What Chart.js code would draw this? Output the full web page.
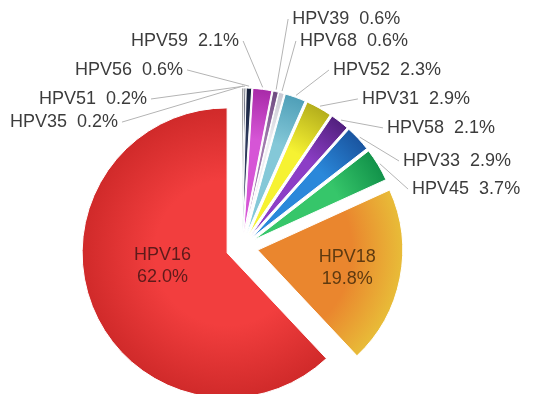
<!DOCTYPE html>
<html>
<head>
<meta charset="utf-8">
<script src="https://cdn.jsdelivr.net/npm/chart.js@4.4.0/dist/chart.umd.min.js"></script>
<style>
  html, body { margin: 0; padding: 0; background: #fff; }
  #wrap { width: 535px; height: 394px; }
</style>
</head>
<body>
<div id="wrap"><canvas id="pie"></canvas></div>
<script>
// HPV genotype shares (%), clockwise from 12 o'clock
const types = ['HPV35', 'HPV51', 'HPV56', 'HPV59', 'HPV39', 'HPV68', 'HPV52', 'HPV31', 'HPV58', 'HPV33', 'HPV45', 'HPV18', 'HPV16'];
const shares = [0.2, 0.2, 0.6, 2.1, 0.6, 0.6, 2.3, 2.9, 2.1, 2.9, 3.7, 19.8, 62.0];

// colour near the tip and at the rim of each slice
const innerColors = ['#3a3a3a', '#3c4560', '#2e3a5c', '#d655d6', '#a07aae', '#eeeef2', '#84c8d8', '#f6f232', '#8c3ec6', '#2a88da', '#36c66a', '#ea862e', '#f23e3e'];
const rimColors = ['#111111', '#1c2236', '#16203a', '#a82aa8', '#6e4a80', '#c8c8d2', '#4f9fb8', '#b4ae1c', '#52207e', '#1a55a0', '#12924a', '#e8bc38', '#d02a2a'];

// where the outside labels sit: angle from 12 o'clock, distance in pie radii
const labelSpots = [[-44.8, 1.214], [-32.7, 1.213], [-18.4, 1.287], [-0.8, 1.421], [12.4, 1.61], [15.7, 1.476],
  [27.2, 1.372], [39.0, 1.314], [50.6, 1.294], [61.9, 1.259], [71.2, 1.239]];

// pull every slice out from the centre, then shade it from tip to rim
const explode = {
  id: 'explode',
  afterDatasetUpdate(chart, args) {
    const ctx = chart.ctx;
    chart.getDatasetMeta(args.index).data.forEach((arc, i) => {
      const mid = (arc.startAngle + arc.endAngle) / 2;
      const d = shares[i] > 10 ? 16 : 14;
      arc.x += Math.cos(mid) * d;
      arc.y += Math.sin(mid) * d;
      const g = ctx.createRadialGradient(arc.x, arc.y, 0, arc.x, arc.y, arc.outerRadius);
      g.addColorStop(0, innerColors[i]);
      g.addColorStop(shares[i] > 50 ? 0.5 : 0.65, innerColors[i]);
      g.addColorStop(1, rimColors[i]);
      arc.options.backgroundColor = g;
    });
  }
};

const sliceLabels = {
  id: 'sliceLabels',
  afterDraw(chart) {
    const ctx = chart.ctx;
    const area = chart.chartArea;
    const cx = (area.left + area.right) / 2;
    const cy = (area.top + area.bottom) / 2;
    const arcs = chart.getDatasetMeta(0).data;
    ctx.save();
    ctx.font = '18px "Liberation Sans", Arial, sans-serif';
    ctx.textBaseline = 'middle';
    arcs.forEach((arc, i) => {
      const mid = (arc.startAngle + arc.endAngle) / 2;
      const R = arc.outerRadius;
      if (i < labelSpots.length) {
        const a = labelSpots[i][0] * Math.PI / 180;
        const tx = cx + Math.sin(a) * R * labelSpots[i][1];
        const ty = cy - Math.cos(a) * R * labelSpots[i][1];
        const left = a < 0;
        ctx.strokeStyle = '#b4b4b4';
        ctx.lineWidth = 1;
        ctx.beginPath();
        ctx.moveTo(arc.x + Math.cos(mid) * (R + 2), arc.y + Math.sin(mid) * (R + 2));
        ctx.lineTo(tx + (left ? 4 : -4), ty);
        ctx.stroke();
        ctx.fillStyle = '#3c3c3c';
        ctx.textAlign = left ? 'right' : 'left';
        ctx.fillText(types[i] + '  ' + shares[i].toFixed(1) + '%', tx, ty);
      } else {
        const big = shares[i] > 50;
        const f = big ? 0.48 : 0.63;
        const x = arc.x + Math.cos(mid) * R * f;
        const y = arc.y + Math.sin(mid) * R * f - (big ? 12 : 0);
        ctx.fillStyle = big ? '#5e1a1a' : '#5e3a10';
        ctx.textAlign = 'center';
        ctx.fillText(types[i], x, y - 11);
        ctx.fillText(shares[i].toFixed(1) + '%', x, y + 11);
      }
    });
    ctx.restore();
  }
};

new Chart(document.getElementById('pie'), {
  type: 'pie',
  data: {
    labels: types,
    datasets: [{
      data: shares,
      backgroundColor: rimColors,
      borderColor: '#ffffff',
      borderWidth: 1,
      radius: 145
    }]
  },
  options: {
    responsive: true,
    maintainAspectRatio: false,
    animation: false,
    layout: { padding: { left: 0, right: 51, top: 100, bottom: 0 } },
    plugins: {
      legend: { display: false },
      tooltip: { enabled: false }
    }
  },
  plugins: [explode, sliceLabels]
});
</script>
</body>
</html>
